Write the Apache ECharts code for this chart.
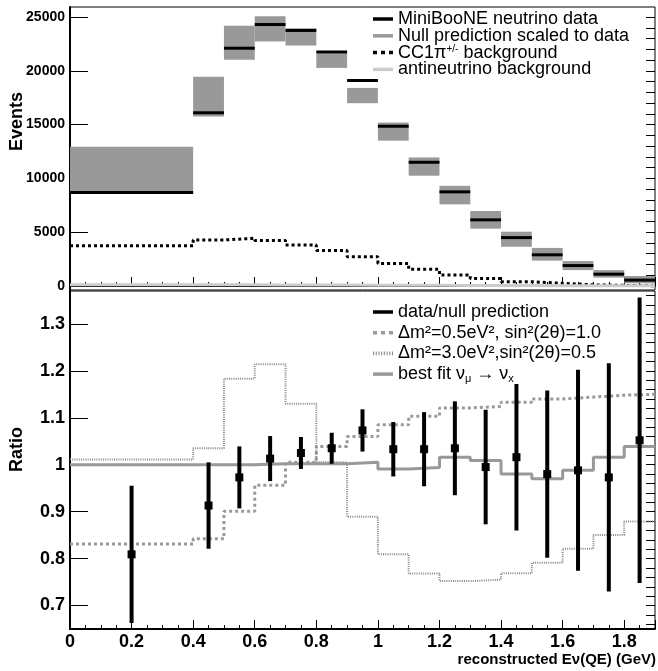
<!DOCTYPE html>
<html lang="en">
<head>
<meta charset="UTF-8">
<title>MiniBooNE</title>
<script src="https://cdn.jsdelivr.net/npm/echarts@6/dist/echarts.min.js"></script>
<style>
    html, body { margin: 0; padding: 0; background: #fff; }
    #main { width: 658px; height: 671px; }
</style>
</head>
<body>
<div id="main"></div>
<script>
// bin edges, reconstructed Ev(QE) in GeV
var binEdges = [0, 0.4, 0.5, 0.6, 0.7, 0.8, 0.9, 1.0, 1.1, 1.2, 1.3, 1.4, 1.5, 1.6, 1.7, 1.8, 1.9];

// upper panel - events per bin
var dataEvents = [8700, 16100, 22100, 24300, 23750, 21750, 19100, 14850, 11500, 8750, 6150, 4500, 2900, 1900, 1100, 550];
var nullPred   = [10850, 17600, 22600, 23900, 23150, 20950, 17700, 14350, 11100, 8450, 6150, 4350, 2950, 1900, 1130, 590];
var nullErr    = [2100, 1850, 1580, 1170, 800, 680, 710, 840, 850, 860, 820, 700, 590, 420, 350, 340];
var cc1piBkg   = [3750, 4280, 4440, 4220, 3820, 3300, 2730, 2100, 1550, 1020, 710, 400, 250, 110, 60, 30];
var antinuBkg  = [120, 120, 110, 100, 95, 90, 80, 70, 60, 50, 45, 40, 35, 30, 25, 20];

// lower panel - ratio to null prediction
var ratio    = [0.809, 0.913, 0.973, 1.013, 1.025, 1.035, 1.073, 1.033, 1.033, 1.035, 0.995, 1.016, 0.980, 0.988, 0.973, 1.052];
var ratioErr = [0.146, 0.092, 0.066, 0.048, 0.034, 0.033, 0.045, 0.058, 0.079, 0.100, 0.122, 0.156, 0.178, 0.214, 0.243, 0.304];
var osc05    = [0.831, 0.842, 0.901, 0.956, 1.005, 1.039, 1.060, 1.085, 1.103, 1.121, 1.124, 1.133, 1.140, 1.144, 1.148, 1.150];
var osc30    = [1.011, 1.035, 1.183, 1.214, 1.130, 1.005, 0.889, 0.809, 0.768, 0.752, 0.755, 0.769, 0.791, 0.821, 0.850, 0.879];
var bestFit  = [1.000, 1.000, 1.000, 1.002, 1.002, 1.002, 1.005, 0.991, 0.994, 1.016, 1.009, 0.980, 0.970, 0.988, 1.016, 1.039];

// tick labels
var eventTicks = [0, 5000, 10000, 15000, 20000, 25000];
var ratioTicks = [0.7, 0.8, 0.9, 1.0, 1.1, 1.2, 1.3];

var FONT = 'Liberation Sans, Arial, sans-serif';

var eventMinor = [];
for (var k = 0; k <= 25; k++) eventMinor.push(k * 1000);
var ratioMinor = [];
for (var k = 33; k <= 68; k++) ratioMinor.push(+(k * 0.02).toFixed(2));

function stepData(vals) {
    var out = [];
    for (var i = 0; i < vals.length; i++) out.push([binEdges[i], vals[i]]);
    out.push([binEdges[vals.length], vals[vals.length - 1]]);
    return out;
}

// legend icons (dash patterns drawn as little rects)
function dashIcon(dash, gap, h) {
    var p = 'path://', x = 0;
    while (x < 20) {
        var w = Math.min(dash, 20 - x);
        p += 'M' + x + ',0H' + (x + w) + 'V' + h + 'H' + x + 'Z';
        x += dash + gap;
    }
    return p;
}
var solidIcon = 'path://M0,0H20V3.5H0Z';
var dashedIcon = dashIcon(4, 4, 3.5);
var dottedIcon = dashIcon(1, 1.5, 3.5);

var boxData = [], segData = [], ptData = [];
for (var i = 0; i < dataEvents.length; i++) {
    boxData.push([binEdges[i], binEdges[i + 1], nullPred[i] - nullErr[i], nullPred[i] + nullErr[i]]);
    segData.push([binEdges[i], binEdges[i + 1], dataEvents[i]]);
    ptData.push([(binEdges[i] + binEdges[i + 1]) / 2, ratio[i], ratioErr[i]]);
}

var myChart = echarts.init(document.getElementById('main'));

function xAx(grid, labels) {
    return {
        type: 'value', gridIndex: grid, min: 0, max: 1.9, interval: 0.2,
        axisLine: {lineStyle: {color: '#000', width: 2}},
        axisTick: {inside: true, length: 9, lineStyle: {color: '#000', width: 1}},
        minorTick: {show: true, splitNumber: 4, length: 4, lineStyle: {color: '#000', width: 1}},
        axisLabel: {show: labels, showMaxLabel: false, color: '#000', fontFamily: FONT, fontWeight: 'bold',
            fontSize: 18, margin: 4, formatter: function (v) { return +v.toFixed(1); }},
        splitLine: {show: false}
    };
}

var option = {
    animation: false,
    grid: [
        {left: 70, right: 3, top: 7, height: 283, show: true, borderColor: '#000', borderWidth: 1},
        {left: 70, right: 3, top: 291, height: 338, show: true, borderColor: '#000', borderWidth: 1}
    ],
    xAxis: [xAx(0, false), xAx(1, true)],
    yAxis: [
        {
            type: 'value', gridIndex: 0, min: -370, max: 25930,
            axisLine: {show: true, lineStyle: {color: '#000', width: 2}},
            axisTick: {inside: true, length: 18, customValues: eventTicks, lineStyle: {color: '#000'}},
            axisLabel: {customValues: eventTicks, color: '#000', fontFamily: FONT, fontWeight: 'bold', fontSize: 14, margin: 5,
                formatter: function (v) { return String(Math.round(v)); }},
            splitLine: {show: false}
        },
        {
            type: 'value', gridIndex: 0, min: -370, max: 25930,
            axisLine: {show: false},
            axisTick: {inside: true, length: 9, customValues: eventMinor, lineStyle: {color: '#000'}},
            axisLabel: {show: false},
            splitLine: {show: false}
        },
        {
            type: 'value', gridIndex: 1, min: 0.65, max: 1.37,
            axisLine: {show: true, lineStyle: {color: '#000', width: 2}},
            axisTick: {inside: true, length: 18, customValues: ratioTicks, lineStyle: {color: '#000'}},
            axisLabel: {customValues: ratioTicks, color: '#000', fontFamily: FONT, fontWeight: 'bold', fontSize: 18, margin: 5,
                formatter: function (v) { return +v.toFixed(1); }},
            splitLine: {show: false}
        },
        {
            type: 'value', gridIndex: 1, min: 0.65, max: 1.37,
            axisLine: {show: false},
            axisTick: {inside: true, length: 9, customValues: ratioMinor, lineStyle: {color: '#000'}},
            axisLabel: {show: false},
            splitLine: {show: false}
        }
    ],
    legend: [
        {
            orient: 'vertical', left: 368, top: 5, itemWidth: 20, itemHeight: 12, itemGap: -1.2,
            selectedMode: false,
            textStyle: {fontFamily: FONT, fontSize: 18, lineHeight: 17, color: '#000',
                rich: {n: {fontFamily: FONT, fontSize: 18, lineHeight: 17, color: '#000'},
                       p: {fontFamily: FONT, fontSize: 10, lineHeight: 17, verticalAlign: 'top', color: '#000', padding: [0, 0, 6, 0]}}},
            formatter: function (name) {
                if (name.indexOf('CC1') === 0) return '{n|CC1π}{p|+/-}{n| background}';
                return name;
            },
            data: [
                {name: 'MiniBooNE neutrino data', icon: solidIcon, itemStyle: {color: '#000'}},
                {name: 'Null prediction scaled to data', icon: solidIcon, itemStyle: {color: '#999'}},
                {name: 'CC1π+/- background', icon: dashedIcon, itemStyle: {color: '#000'}},
                {name: 'antineutrino background', icon: solidIcon, itemStyle: {color: '#ccc'}}
            ]
        },
        {
            orient: 'vertical', left: 368, top: 297, itemWidth: 20, itemHeight: 14, itemGap: 0.7,
            selectedMode: false,
            textStyle: {fontFamily: FONT, fontSize: 18, lineHeight: 20, color: '#000',
                rich: {n: {fontFamily: FONT, fontSize: 18, lineHeight: 20, color: '#000'},
                       s: {fontFamily: FONT, fontSize: 11, lineHeight: 20, color: '#000', verticalAlign: 'bottom', padding: [6, 0, 0, 0]}}},
            formatter: function (name) {
                if (name.indexOf('best fit') === 0) return '{n|best fit ν}{s|μ}{n| → ν}{s|x}';
                return name;
            },
            data: [
                {name: 'data/null prediction', icon: solidIcon, itemStyle: {color: '#000'}},
                {name: 'Δm²=0.5eV², sin²(2θ)=1.0', icon: dashedIcon, itemStyle: {color: '#999'}},
                {name: 'Δm²=3.0eV²,sin²(2θ)=0.5', icon: dottedIcon, itemStyle: {color: '#888'}},
                {name: 'best fit νμ → νx', icon: solidIcon, itemStyle: {color: '#999'}}
            ]
        }
    ],
    graphic: [
        {type: 'text', left: 8, top: 92, rotation: Math.PI / 2,
            style: {text: 'Events', font: 'bold 18px ' + FONT, fill: '#000'}},
        {type: 'text', left: 8, top: 427, rotation: Math.PI / 2,
            style: {text: 'Ratio', font: 'bold 18px ' + FONT, fill: '#000'}},
        {type: 'text', right: 2, top: 652,
            style: {text: 'reconstructed Eν(QE) (GeV)', font: 'bold 15px ' + FONT, fill: '#000'}}
    ],
    series: [
        {
            name: 'Null prediction scaled to data', type: 'custom', xAxisIndex: 0, yAxisIndex: 0,
            data: boxData, encode: {x: [0, 1], y: [2, 3]}, clip: true,
            renderItem: function (params, api) {
                var a = api.coord([api.value(0), api.value(3)]);
                var b = api.coord([api.value(1), api.value(2)]);
                return {type: 'rect', shape: {x: a[0], y: a[1], width: b[0] - a[0], height: b[1] - a[1]},
                    style: {fill: '#999'}};
            }
        },
        {
            name: 'MiniBooNE neutrino data', type: 'custom', xAxisIndex: 0, yAxisIndex: 0,
            data: segData, encode: {x: [0, 1], y: 2}, clip: true,
            renderItem: function (params, api) {
                var a = api.coord([api.value(0), api.value(2)]);
                var b = api.coord([api.value(1), api.value(2)]);
                return {type: 'line', shape: {x1: a[0], y1: a[1], x2: b[0], y2: b[1]},
                    style: {stroke: '#000', lineWidth: 3}};
            }
        },
        {
            name: 'CC1π+/- background', type: 'line', xAxisIndex: 0, yAxisIndex: 0, step: 'end',
            symbol: 'none', data: stepData(cc1piBkg), itemStyle: {color: '#000'},
            lineStyle: {color: '#000', width: 3, type: [3, 3]}
        },
        {
            name: 'antineutrino background', type: 'line', xAxisIndex: 0, yAxisIndex: 0, step: 'end',
            symbol: 'none', data: stepData(antinuBkg), itemStyle: {color: '#ccc'},
            lineStyle: {color: '#ccc', width: 3}
        },
        {
            name: 'Δm²=0.5eV², sin²(2θ)=1.0', type: 'line', xAxisIndex: 1, yAxisIndex: 2, step: 'end',
            symbol: 'none', data: stepData(osc05), itemStyle: {color: '#999'},
            lineStyle: {color: '#999', width: 3, type: [3, 3]}
        },
        {
            name: 'Δm²=3.0eV²,sin²(2θ)=0.5', type: 'line', xAxisIndex: 1, yAxisIndex: 2, step: 'end',
            symbol: 'none', data: stepData(osc30), itemStyle: {color: '#888'},
            lineStyle: {color: '#888', width: 2, type: [1, 1.2]}
        },
        {
            name: 'best fit νμ → νx', type: 'line', xAxisIndex: 1, yAxisIndex: 2, step: 'end',
            symbol: 'none', data: stepData(bestFit), itemStyle: {color: '#999'},
            lineStyle: {color: '#999', width: 3}
        },
        {
            name: 'data/null prediction', type: 'custom', xAxisIndex: 1, yAxisIndex: 2,
            data: ptData, encode: {x: 0, y: 1}, clip: true, z: 5,
            renderItem: function (params, api) {
                var x = api.value(0), v = api.value(1), e = api.value(2);
                var hi = api.coord([x, v + e]);
                var lo = api.coord([x, v - e]);
                var c = api.coord([x, v]);
                return {type: 'group', children: [
                    {type: 'line', shape: {x1: lo[0], y1: lo[1], x2: hi[0], y2: hi[1]},
                        style: {stroke: '#000', lineWidth: 4}},
                    {type: 'rect', shape: {x: c[0] - 4, y: c[1] - 4, width: 8, height: 8},
                        style: {fill: '#000'}}
                ]};
            }
        }
    ]
};

myChart.setOption(option);
</script>
</body>
</html>
